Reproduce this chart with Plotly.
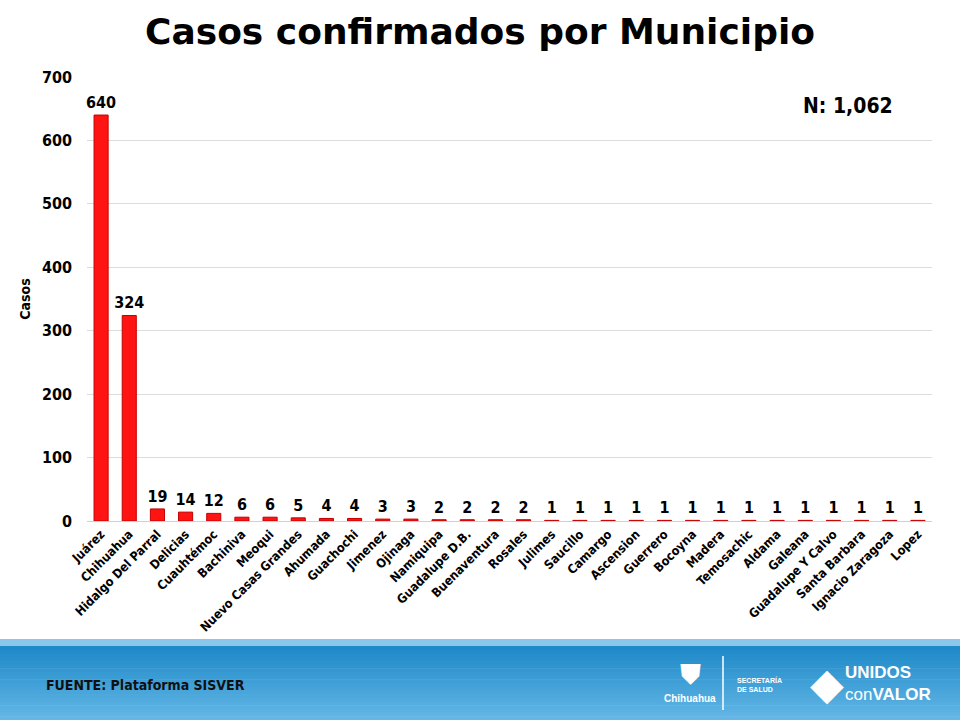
import plotly.graph_objects as go

# data
municipios = ["Juárez", "Chihuahua", "Hidalgo Del Parral", "Delicias", "Cuauhtémoc",
              "Bachiniva", "Meoqui", "Nuevo Casas Grandes", "Ahumada", "Guachochi",
              "Jimenez", "Ojinaga", "Namiquipa", "Guadalupe D.B.", "Buenaventura",
              "Rosales", "Julimes", "Saucillo", "Camargo", "Ascension", "Guerrero",
              "Bocoyna", "Madera", "Temosachic", "Aldama", "Galeana",
              "Guadalupe Y Calvo", "Santa Barbara", "Ignacio Zaragoza", "Lopez"]
casos = [640, 324, 19, 14, 12, 6, 6, 5, 4, 4, 3, 3, 2, 2, 2, 2,
         1, 1, 1, 1, 1, 1, 1, 1, 1, 1, 1, 1, 1, 1]
y_ticks = [0, 100, 200, 300, 400, 500, 600, 700]
total = sum(casos)

W, H = 960, 720
ML, MR, MT, MB = 87, 28, 77, 199
pw, ph = W - ML - MR, H - MT - MB

def px_x(p):  # pixel -> paper x
    return (p - ML) / pw

def px_y(p):  # pixel -> paper y
    return (H - MB - p) / ph

BOLD = "DejaVu Sans Condensed"

fig = go.Figure()
fig.add_trace(go.Bar(
    x=municipios, y=casos,
    marker=dict(color="#ff1414", line=dict(color="#c40000", width=1)),
    text=casos, textposition="outside", cliponaxis=False, constraintext="none",
    textfont=dict(family=BOLD, size=16, color="black", weight="bold"),
))

# footer band, stacked strips to fake the gradient
shapes = []
shapes.append(dict(type="rect", xref="paper", yref="paper",
                   x0=px_x(0), x1=px_x(W), y0=px_y(646), y1=px_y(639),
                   fillcolor="#8cc6ea", line_width=0, layer="below"))
n = 20
c0, c1 = (30, 138, 200), (100, 182, 230)
for i in range(n):
    t = i / (n - 1)
    col = "rgb(%d,%d,%d)" % tuple(int(a + (b - a) * t) for a, b in zip(c0, c1))
    top = 646 + (720 - 646) * i / n
    bot = 646 + (720 - 646) * (i + 1) / n + 0.5
    shapes.append(dict(type="rect", xref="paper", yref="paper",
                       x0=px_x(0), x1=px_x(W), y0=px_y(bot), y1=px_y(top),
                       fillcolor=col, line_width=0, layer="below"))
# divider next to logo
shapes.append(dict(type="line", xref="paper", yref="paper",
                   x0=px_x(723), x1=px_x(723), y0=px_y(656), y1=px_y(710),
                   line=dict(color="white", width=1.5)))

def note(text, x, y, size, family=BOLD, color="black", xanchor="center", **kw):
    return dict(text=text, xref="paper", yref="paper", x=px_x(x), y=px_y(y),
                xanchor=xanchor, yanchor="middle", showarrow=False,
                font=dict(family=family, size=size, color=color, **kw), **{
                    k: v for k, v in kw.items() if k == "align"})

annotations = [
    note("N: {:,}".format(total), 848, 106, 21, weight="bold"),
    note("FUENTE: Plataforma SISVER", 44, 685, 14, color="#111111",
         xanchor="left", weight="bold"),
    note("<b>Chihuahua</b>", 690, 698, 10, family="Liberation Sans", color="white"),
    note("<b>SECRETARÍA<br>DE SALUD</b>", 735, 684, 7, family="Liberation Sans",
         color="white", xanchor="left"),
    note("<b>UNIDOS</b><br>con<b>VALOR</b>", 843, 683, 17, family="Liberation Sans",
         color="white", xanchor="left"),
    note("◆", 827, 683, 44, family="DejaVu Sans", color="white"),
    note("⛊", 690, 674, 28, family="DejaVu Sans", color="white"),
]
for a in annotations:
    a["font"].pop("align", None)
annotations[4]["align"] = "left"
annotations[3]["align"] = "left"

fig.update_layout(
    width=W, height=H,
    margin=dict(l=ML, r=MR, t=MT, b=MB),
    paper_bgcolor="white", plot_bgcolor="white",
    title=dict(text="Casos confirmados por Municipio", x=0.5, xref="container",
               y=0.957, yanchor="middle",
               font=dict(family="DejaVu Sans", size=36, color="black", weight="bold")),
    bargap=0.5, showlegend=False,
    shapes=shapes, annotations=annotations,
    xaxis=dict(tickangle=-45, showgrid=False, showline=True, linecolor="#d0d0d0",
               ticks="", tickfont=dict(family=BOLD, size=12.5, color="black", weight="bold")),
    yaxis=dict(range=[0, 700], tickvals=y_ticks, showgrid=True, gridcolor="#dcdcdc",
               zeroline=False, ticks="", ticklabelstandoff=14,
               tickfont=dict(family=BOLD, size=16, color="black", weight="bold"),
               title=dict(text="Casos", standoff=8,
                          font=dict(family=BOLD, size=14, color="black", weight="bold"))),
)

# drop the browser's default body margin so the chart sits at the page corner
fig.write_html("out.html", config={"displayModeBar": False},
               post_script="document.body.style.margin='0';")
